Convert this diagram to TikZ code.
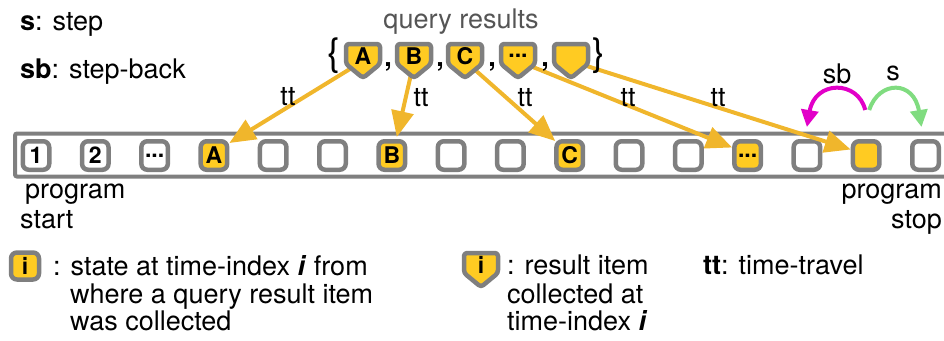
\documentclass[tikz,border=0pt]{standalone}
\usepackage{fontspec}
\setmainfont{TeX Gyre Heros}
\usetikzlibrary{arrows.meta,calc}
\definecolor{grayc}{HTML}{7F7F7F}
\definecolor{yel}{HTML}{FFCB22}
\definecolor{arr}{HTML}{F0B62C}
\definecolor{mag}{HTML}{E200C8}
\definecolor{grn}{HTML}{80DC80}
\definecolor{qgray}{HTML}{555555}
\newcommand\mydots{...}
\begin{document}
\begin{tikzpicture}[x=1pt,y=-1pt,
  st/.style={draw=grayc, line width=4.5pt, rounded corners=6pt, minimum width=26.5pt, minimum height=28.5pt, inner sep=0pt, fill=white, font=\fontsize{23}{23}\selectfont\bfseries},
  txt/.style={font=\fontsize{27}{30}\selectfont, inner sep=0pt},
  ttlab/.style={font=\fontsize{27}{28}\selectfont, inner sep=0pt},
  ttarrow/.style={draw=arr, line width=4pt, -{Triangle[length=26pt,width=22pt]}},
  pentline/.style={draw=grayc, line width=4.5pt, fill=yel, line join=round, rounded corners=3pt},
  pent/.pic={
    \draw[pentline] (-17,3) -- (-17,-17) -- (17,-17) -- (17,3) -- (0,17) -- cycle;
    \node[font=\fontsize{23}{23}\selectfont\bfseries, inner sep=0pt] (-c) at (0,-5) {#1};
  }]
\useasboundingbox (0,0) rectangle (944,340);
\clip (0,0) rectangle (944,340);

% time line bar
\draw[grayc, line width=4pt, rounded corners=2pt] (980,133.5) -- (15,133.5) -- (15,176.5) -- (980,176.5);

% states
\foreach \i/\lab/\f in {0/1/white,1/2/white,2/\mydots/white,3/A/yel,4//white,5//white,6/B/yel,7//white,8//white,9/C/yel,10//white,11//white,12/\mydots/yel,13//white,14//yel,15//white}
  \node[st, fill=\f] (b\i) at ({36+59.3*\i},155.5) {\lab};

% query result positions
\coordinate (qA) at (363,61);
\coordinate (qB) at (414,61);
\coordinate (qC) at (465,61);
\coordinate (qD) at (518,61);
\coordinate (qE) at (571,61);

% time-travel arrows
\draw[ttarrow] (qA) -- ($(b3.north east)+(0,4)$);
\draw[ttarrow] (qB) -- ($(b6.north)+(5,-2)$);
\draw[ttarrow] (qC) -- ($(b9.north west)+(1,2)$);
\draw[ttarrow] (qD) -- ($(b12.west)+(0,-8)$);
\draw[ttarrow] (qE) -- ($(b14.west)+(0,-6)$);

\node[ttlab] (t1) at (288,97) {tt};
\node[ttlab] (t2) at (421,98) {tt};
\node[ttlab] (t3) at (525,98) {tt};
\node[ttlab] (t4) at (628,98) {tt};
\node[ttlab] (t5) at (718,98) {tt};

% query results
\node[txt, text=qgray, anchor=base] (qr) at (461,28) {query results};
\node[font=\fontsize{38}{38}\selectfont, inner sep=0pt] (lb) at (334,56) {\{};
\node[font=\fontsize{38}{38}\selectfont, inner sep=0pt] (rb) at (599,56) {\}};
\pic (pA) at (qA) {pent=A};
\pic (pB) at (qB) {pent=B};
\pic (pC) at (qC) {pent=C};
\pic (pD) at (qD) {pent=\mydots};
\pic (pE) at (qE) {pent=};
\foreach \x [count=\k] in {388,440,492,545}
  \node[font=\fontsize{27}{27}\selectfont\bfseries, inner sep=0pt, anchor=base] (cm\k) at (\x,66) {,};

% step / step-back
\draw[mag, line width=4pt, -{Triangle[length=17pt,width=17pt]}] ($(b14.north)+(-1,-29)$) .. controls (858,80) and (815,80) .. ($(b13.north)+(0,-12)$);
\draw[grn, line width=4pt, -{Triangle[length=17pt,width=17pt]}] ($(b14.north)+(3,-29)$) .. controls (879,80) and (914,80) .. ($(b15.north)+(-4,-12)$);
\node[txt] (sbl) at (837,74) {sb};
\node[txt] (sl) at (893,73) {s};

% top-left legend
\node[txt, anchor=base west] (ls) at (20,30) {\textbf{s}: step};
\node[txt, anchor=base west] (lsb) at (20,78) {\textbf{sb}: step-back};

% program start / stop
\node[txt, anchor=base west] (ps1) at (25,198) {program};
\node[txt, anchor=base west] (ps2) at (20,228) {start};
\node[txt, anchor=base east] (pe1) at (942,198) {program};
\node[txt, anchor=base east] (pe2) at (942,228) {stop};

% bottom legend
\node[st, fill=yel, minimum width=28pt, minimum height=27pt] (lgb) at (25,266) {i};
\node[txt, anchor=base west] (l1a) at (53,275) {: state at time-index \textbf{\textit{i}} from};
\node[txt, anchor=base west] (l1b) at (70,303) {where a query result item};
\node[txt, anchor=base west] (l1c) at (70,330) {was collected};

\pic (lgp) at (481,270) {pent=i};
\node[txt, anchor=base west] (l2a) at (507,274) {: result item};
\node[txt, anchor=base west] (l2b) at (507,303) {collected at};
\node[txt, anchor=base west] (l2c) at (507,330) {time-index \textbf{\textit{i}}};

\node[txt, anchor=base west] (l3) at (703,274) {\textbf{tt}: time-travel};
\end{tikzpicture}
\end{document}
